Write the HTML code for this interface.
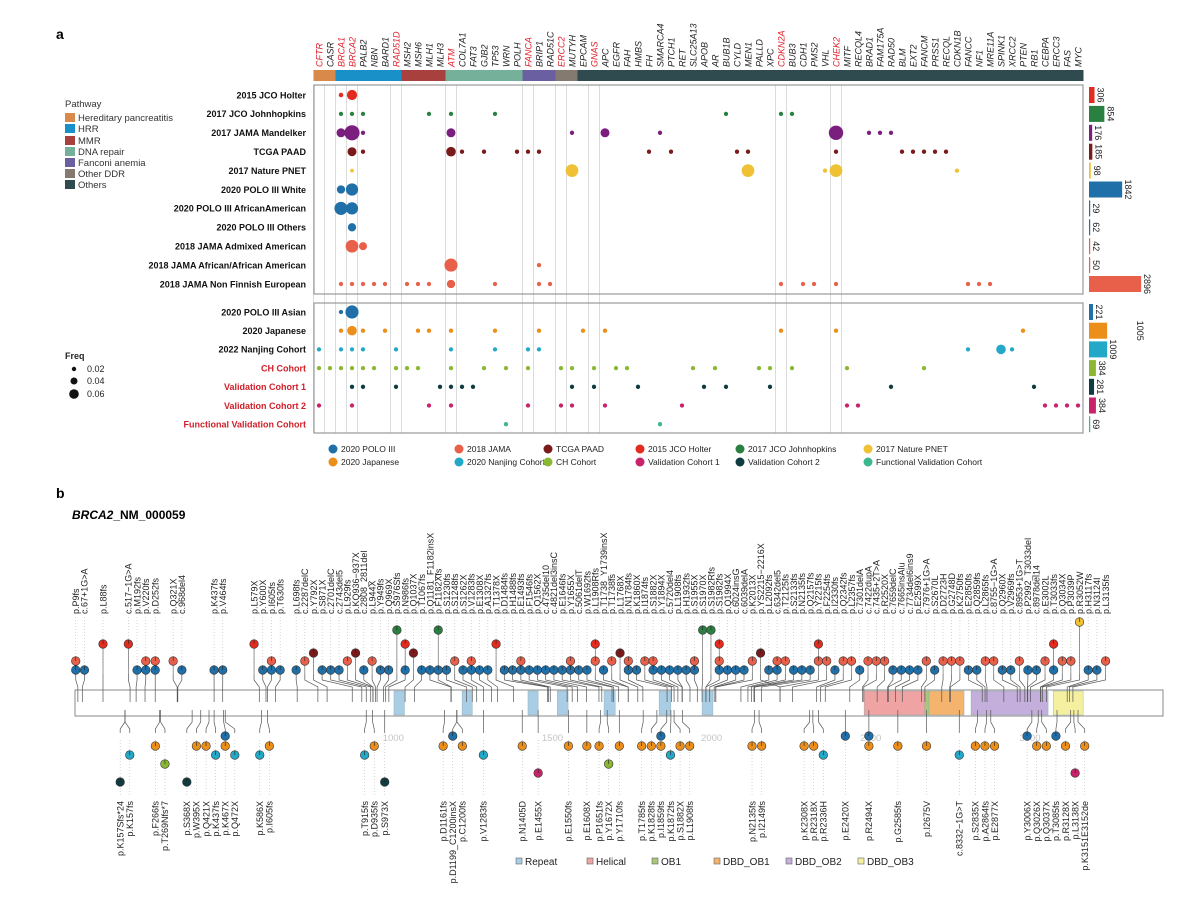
<!DOCTYPE html>
<html><head><meta charset="utf-8">
<style>
html,body{margin:0;padding:0;background:#fff;}
svg{display:block;font-family:"Liberation Sans",Arial,sans-serif;}
</style></head>
<body>
<svg id="fig" width="1200" height="900" viewBox="0 0 1200 900" xmlns="http://www.w3.org/2000/svg">
  <rect width="1200" height="900" fill="#fff"/>
  <text x="56" y="39" font-size="14" font-weight="bold">a</text>
  <text x="56" y="498" font-size="14" font-weight="bold">b</text>
  <text x="72" y="519" font-size="12" font-weight="bold"><tspan font-style="italic">BRCA2</tspan>_NM_000059</text>

  <g font-size="9.5" fill="#333">
    <text x="65" y="107">Pathway</text>
    <rect x="65" y="113" width="10" height="9" fill="#d9894a"/><text x="78" y="121">Hereditary pancreatitis</text>
    <rect x="65" y="124" width="10" height="9" fill="#1a90c8"/><text x="78" y="132">HRR</text>
    <rect x="65" y="136" width="10" height="9" fill="#a8403e"/><text x="78" y="144">MMR</text>
    <rect x="65" y="147" width="10" height="9" fill="#74b09a"/><text x="78" y="155">DNA repair</text>
    <rect x="65" y="158" width="10" height="9" fill="#6a5fa0"/><text x="78" y="166">Fanconi anemia</text>
    <rect x="65" y="169" width="10" height="9" fill="#857a6f"/><text x="78" y="177">Other DDR</text>
    <rect x="65" y="180" width="10" height="9" fill="#2f4b50"/><text x="78" y="188">Others</text>
  </g>
  <g font-size="9" fill="#222">
    <text x="65" y="359" font-weight="bold">Freq</text>
    <circle cx="74" cy="369" r="2.2" fill="#111"/><text x="87" y="372">0.02</text>
    <circle cx="74" cy="381" r="3.5" fill="#111"/><text x="87" y="384">0.04</text>
    <circle cx="74" cy="394" r="4.8" fill="#111"/><text x="87" y="397">0.06</text>
  </g>
  <g id="pa"></g>
  <g id="pb"></g>
</svg>
<script>
// ---------------- Panel a data ----------------
const genes = ["CFTR","CASR","BRCA1","BRCA2","PALB2","NBN","BARD1","RAD51D","MSH2","MSH6","MLH1","MLH3","ATM","COL7A1","FAT3","GJB2","TP53","WRN","POLH","FANCA","BRIP1","RAD51C","ERCC2","MUTYH","EPCAM","GNAS","APC","EGFR","FAH","HMBS","FH","SMARCA4","PTCH1","RET","SLC25A13","APOB","AR","BUB1B","CYLD","MEN1","PALLD","XPC","CDKN2A","BUB3","CDH1","PMS2","VHL","CHEK2","MITF","RECQL4","BRAD1","FAM175A","RAD50","BLM","EXT2","FANCM","PRSS1","RECQL","CDKN1B","FANCC","NF1","MRE11A","SPINK1","XRCC2","PTEN","RB1","CEBPA","ERCC3","FAS","MYC"];
const redGenes = [0,2,3,7,12,19,22,25,42,47];
const pathwayNames = ["Hereditary pancreatitis","HRR","MMR","DNA repair","Fanconi anemia","Other DDR","Others"];
const pathwayColors = ["#d9894a","#1a90c8","#a8403e","#74b09a","#6a5fa0","#857a6f","#2f4b50"];
const pathwayStart = [0,2,8,12,19,22,24];
const pathwayEnd = [1,7,11,18,21,23,69];

const topRowLabels = ["2015 JCO Holter","2017 JCO Johnhopkins","2017 JAMA Mandelker","TCGA PAAD","2017 Nature PNET","2020 POLO III White","2020 POLO III AfricanAmerican","2020 POLO III Others","2018 JAMA Admixed American","2018 JAMA African/African American","2018 JAMA Non Finnish European"];
const topRowColors = ["#e32b1f","#2a8040","#7b1f7f","#7a1a1a","#efc135","#1f6fa8","#1f6fa8","#1f6fa8","#e8604a","#e8604a","#e8604a"];
const topRowN = [306,854,176,185,98,1842,29,62,42,50,2896];
const topRowPoints = [
  [[2,0.009],[3,0.045]],
  [[2,0.008],[3,0.008],[4,0.008],[10,0.008],[12,0.008],[16,0.008],[37,0.008],[42,0.008],[43,0.008]],
  [[2,0.035],[3,0.1],[4,0.008],[12,0.035],[23,0.008],[26,0.035],[31,0.008],[47,0.09],[50,0.008],[51,0.008],[52,0.008]],
  [[3,0.035],[4,0.008],[12,0.04],[13,0.008],[15,0.008],[18,0.008],[19,0.008],[20,0.008],[30,0.008],[32,0.008],[38,0.008],[39,0.008],[47,0.008],[53,0.008],[54,0.008],[55,0.008],[56,0.008],[57,0.008]],
  [[3,0.006],[23,0.07],[39,0.07],[46,0.008],[47,0.07],[58,0.008]],
  [[2,0.03],[3,0.065]],
  [[2,0.075],[3,0.065]],
  [[3,0.03]],
  [[3,0.07],[4,0.028]],
  [[12,0.075],[20,0.008]],
  [[2,0.008],[3,0.008],[4,0.008],[5,0.008],[6,0.008],[8,0.008],[9,0.008],[10,0.008],[12,0.03],[16,0.008],[20,0.008],[21,0.008],[42,0.008],[44,0.008],[45,0.008],[47,0.008],[59,0.008],[60,0.008],[61,0.008]]
];
const lowRowLabels = ["2020 POLO III Asian","2020 Japanese","2022 Nanjing Cohort","CH Cohort","Validation Cohort 1","Validation Cohort 2","Functional Validation Cohort"];
const lowRowLabelColors = ["#111","#111","#111","#d0202a","#d0202a","#d0202a","#d0202a"];
const lowRowColors = ["#1f6fa8","#ec8e1a","#23a8c7","#8ab832","#0f3c40","#c8236a","#3cb890"];
const lowRowN = [221,1005,1009,384,281,384,69];
const lowRowPoints = [
  [[2,0.008],[3,0.075]],
  [[2,0.008],[3,0.04],[4,0.008],[6,0.008],[9,0.008],[10,0.008],[12,0.008],[16,0.008],[20,0.008],[24,0.008],[26,0.008],[42,0.008],[47,0.008],[64,0.008]],
  [[0,0.008],[2,0.008],[3,0.008],[4,0.008],[7,0.008],[12,0.008],[16,0.008],[19,0.008],[20,0.008],[59,0.008],[62,0.04],[63,0.008]],
  [[0,0.008],[1,0.008],[2,0.008],[3,0.008],[4,0.008],[5,0.008],[7,0.008],[8,0.008],[9,0.008],[12,0.008],[15,0.008],[17,0.008],[19,0.008],[22,0.008],[23,0.008],[25,0.008],[27,0.008],[28,0.008],[34,0.008],[36,0.008],[40,0.008],[41,0.008],[43,0.008],[48,0.008],[55,0.008]],
  [[3,0.008],[4,0.008],[7,0.008],[11,0.008],[12,0.008],[13,0.008],[14,0.008],[23,0.008],[25,0.008],[29,0.008],[35,0.008],[37,0.008],[41,0.008],[52,0.008],[65,0.008]],
  [[0,0.008],[3,0.008],[10,0.008],[12,0.008],[19,0.008],[22,0.008],[23,0.008],[26,0.008],[33,0.008],[48,0.008],[49,0.008],[66,0.008],[67,0.008],[68,0.008],[69,0.008]],
  [[17,0.008],[31,0.008]]
];
const legendNames = ["2020 POLO III","2018 JAMA","TCGA PAAD","2015 JCO Holter","2017 JCO Johnhopkins","2017 Nature PNET","2020 Japanese","2020 Nanjing  Cohort","CH Cohort","Validation Cohort 1","Validation Cohort 2","Functional Validation Cohort"];
const legendColors = ["#1f6fa8","#e8604a","#7a1a1a","#e32b1f","#2a8040","#efc135","#ec8e1a","#23a8c7","#8ab832","#c8236a","#0f3c40","#3cb890"];

// ---------------- Panel b data ----------------
const protLen = 3418;
const axisTicks = [1000,1500,2000,2500,3000];
const domainNames = ["Repeat","Repeat","Repeat","Repeat","Repeat","Repeat","Repeat","Helical","OB1","DBD_OB1","DBD_OB2","DBD_OB3"];
const domainStart = [1002,1216,1423,1515,1662,1835,1970,2479,2670,2683,2815,3073];
const domainEnd = [1035,1248,1455,1549,1697,1872,2004,2670,2683,2793,3057,3167];
const domainColorNames = ["Repeat","Helical","OB1","DBD_OB1","DBD_OB2","DBD_OB3"];
const domainColors = ["#a8cde4","#f0a3a3","#a8c878","#f5b46e","#c4aedb","#f5f0a0"];

const topMutLabels = ["p.P9fs","c.67+1G>A","p.L88fs","c.517\u22121G>A","p.M192fs","p.V220fs","p.D252fs","p.Q321X","c.968del4","p.K437fs","p.V464fs","p.L579X","p.Y600X","p.I605fs","p.T630fs","p.L698fs","c.2287delC","p.Y792X","p.S871X","c.2701delC","c.2743del5","p.L929fs","p.KQ936\u2212937X","c.2808_2811del","p.L944X","p.Y949fs","p.Q969X","p.S976Sfs","p.N986fs","p.Q1037X","p.T1067fs","p.Q1181_F1182insX","p.F1182Xfs","p.S1230fs","p.S1248fs","p.S1262X","p.V1283fs","p.E1308X","p.A1327fs","p.T1378X","p.D1484fs","p.H1488fs","p.E1493fs","p.F1546fs","p.Q1562X","c.4735del10","c.4821del3insC","p.E1646fs","p.Y1655X","c.5061delT","p.W1692fs","p.L1908Rfs","p.T1738_Y1739insX","p.T1738fs","p.L1768X","p.N1784fs","p.K1860X","p.I1874fs","p.S1882X","p.Y1894X","c.5720del4","p.L1908fs","p.H1932fs","p.S1955X","p.S1970X","p.S1982Rfs","p.S1982fs","p.Q1994X","c.6024insG","c.6039delA","p.K2013X","p.YS2215\u22122216X","p.L2092fs","c.6342del5","p.T2125fs","p.S2133fs","p.N2135fs","p.Q2157fs","p.Y2215fs","p.F2254fs","p.I2330fs","p.Q2342fs","p.L2357fs","c.7301delA","c.7422dupA","c.7435+2T>A","p.R2520X","c.7659delC","c.7665insAlu","c.7734del6ins9","p.E2599X","c.7976+1G>A","p.S2670L","p.D2723H","p.G2748D","p.K2750fs","p.E2850fs","p.Q2859fs","p.L2865fs","c.8755\u22121G>A","p.Q2960X","p.V2969fs","c.8953+1G>T","p.P2992_T3033del","c.8978del14","p.E3002L","p.T3033fs","p.Q3034X","p.P3039P","p.R3052W","p.H3117fs","p.N3124I","p.L3135fs"];
const topMutPos = [9,23,88,173,192,220,252,321,323,437,464,579,600,605,630,698,763,792,871,901,915,929,936,936,944,949,969,976,986,1037,1067,1181,1182,1230,1248,1262,1283,1308,1327,1378,1484,1488,1493,1546,1562,1579,1607,1646,1655,1687,1692,1708,1738,1738,1768,1784,1860,1874,1882,1894,1907,1908,1932,1955,1970,1982,1982,1994,2008,2013,2013,2215,2092,2114,2125,2133,2135,2157,2215,2254,2330,2342,2357,2434,2474,2478,2520,2553,2555,2578,2599,2659,2670,2723,2748,2750,2850,2859,2865,2918,2960,2969,2984,2992,2993,3002,3033,3034,3039,3052,3117,3124,3135];
const topMutCohorts = ["BO","B","R","R","B","BO","BO","O","B","B","B","R","B","BO","B","B","O","D","B","B","B","O","D","B","O","B","B","G","BR","D","B","B","BG","B","O","B","BO","B","B","R","B","B","BO","B","B","B","B","B","BO","B","B","RO","B","O","D","BO","B","O","BO","B","B","B","B","BO","G","G","BOR","B","B","B","O","D","B","BO","O","B","B","B","RO","O","B","O","O","B","O","O","O","B","B","B","B","O","B","O","O","O","B","B","O","O","B","B","O","B","B","O","RB","O","O","Y","B","B","O"];

const botMutLabels = ["p.K157Sfs*24","p.K157fs","p.F266fs","p.T269Nfs*7","p.S368X","p.W395X","p.Q421X","p.K437fs","p.K467X","p.Q472X","p.K586X","p.I605fs","p.T915fs","p.D935fs","p.S973X","p.D1161fs","p.D1199_C1200insX","p.C1200fs","p.V1283fs","p.N1405D","p.E1455X","p.E1550fs","p.E1608X","p.P1651fs","p.Y1672X","p.Y1710fs","p.T1785fs","p.K1828fs","p.I1859fs","p.K1872fs","p.S1882X","p.L1908fs","p.N2135fs","p.I2149fs","p.K2308X","p.R2318X","p.R2336H","p.E2420X","p.R2494X","p.G2585fs","p.I2675V","c.8332\u22121G>T","p.S2835X","p.A2864fs","p.E2877X","p.Y3006X","p.Q3026X","p.Q3037X","p.T3085fs","p.R3128X","p.L3138X","p.K3151E3152de"];
const botMutPos = [157,157,266,269,368,395,421,437,467,472,586,605,915,935,973,1161,1199,1200,1283,1405,1455,1550,1608,1651,1672,1710,1785,1828,1859,1872,1882,1908,2135,2149,2308,2318,2336,2420,2494,2585,2675,2778,2835,2864,2877,3006,3026,3037,3085,3128,3138,3151];
const botMutCohorts = ["t","n","j","c","t","j","j","n","bj","n","n","j","n","j","t","j","b","j","n","j","v","j","j","j","c","j","j","j","bj","n","j","j","j","j","j","j","n","b","bj","j","j","n","j","j","j","b","j","j","b","j","v","j"];

// ---------------- helpers ----------------
const NS = "http://www.w3.org/2000/svg";
function mk(tag, attrs, parent){ const e=document.createElementNS(NS,tag); for(const k in attrs) e.setAttribute(k,attrs[k]); parent.appendChild(e); return e; }
const pa = document.getElementById("pa");
const pb = document.getElementById("pb");

// ---------------- Panel a ----------------
const colX = i => 319 + 11*i;
const topRowY = i => 95 + 18.9*i;
const lowRowY = i => 312 + 18.7*i;
const rScale = f => 24*Math.sqrt(f);
const nScale = n => n*0.018;

redGenes.forEach(g=>{
  [colX(g)-5.5, colX(g)+5.5].forEach(x=>{
    const l = mk("line",{x1:x,x2:x,y1:85,y2:433,stroke:"#dcdcdc","stroke-width":1},pa);
    
    
  });
});
const box1 = mk("rect",{x:314,y:85,width:769,height:209,fill:"none",stroke:"#999","stroke-width":1.2},pa);


const box2 = mk("rect",{x:314,y:303,width:769,height:130,fill:"none",stroke:"#999","stroke-width":1.2},pa);



genes.forEach((g,i)=>{
  const t = mk("text",{transform:`translate(${colX(i)+3.5},67) rotate(-90)`,"font-size":9,"font-style":"italic",fill:redGenes.includes(i)?"#e0202a":"#222"},pa);
  t.textContent = g;
  
  
});
pathwayNames.forEach((p,k)=>{
  const x1 = colX(pathwayStart[k])-5.5, x2 = colX(pathwayEnd[k])+5.5;
  const r = mk("rect",{x:x1,y:70,width:x2-x1,height:11,fill:pathwayColors[k]},pa);
  
  
});

function drawRows(labels, labelColors, colors, ns, points, yFn){
  let prevEnd = -1;
  labels.forEach((lab,i)=>{
    const y = yFn(i);
    const t = mk("text",{x:306,y:y+3.3,"text-anchor":"end","font-size":9,"font-weight":"bold",fill:labelColors[i]},pa);
    t.textContent = lab;
    
    
    points[i].forEach(p=>{
      const c = mk("circle",{cx:colX(p[0]),cy:y,r:rScale(p[1]),fill:colors[i]},pa);
      
      
    });
    const w = Math.max(1.2,nScale(ns[i]));
    const b = mk("rect",{x:1089,y:y-8,width:w,height:16,fill:colors[i]},pa);
    
    
    let lx = 1089+w+3;
    const nextW = i+1<ns.length ? nScale(ns[i+1]) : 0;
    if(w>10 && nextW>10) lx = 1089+w+30;
    const nt = mk("text",{transform:`translate(${lx},${y}) rotate(90)`,"text-anchor":"middle","font-size":9,fill:"#222"},pa);
    nt.textContent = ns[i];
    
    
  });
}
drawRows(topRowLabels, topRowLabels.map(()=>"#111"), topRowColors, topRowN, topRowPoints, topRowY);
drawRows(lowRowLabels, lowRowLabelColors, lowRowColors, lowRowN, lowRowPoints, lowRowY);

const legX = [333,459,548,640,740,868];
legendNames.forEach((n,k)=>{
  const x = legX[k%6], y = k<6 ? 449 : 462;
  const c = mk("circle",{cx:x,cy:y,r:4.5,fill:legendColors[k]},pa);
  
  
  const t = mk("text",{x:x+8,y:y+3.2,"font-size":8.5,fill:"#222"},pa);
  t.textContent = n;
  
  
});

// ---------------- Panel b ----------------
const X0 = 75, X1 = 1163;
const aaX = aa => X0 + aa*(X1-X0)/protLen;
const BAR_TOP = 690, BAR_BOT = 716;

function spread(xs, gap, lo, hi){
  const s = xs.slice();
  for(let it=0; it<600; it++){
    for(let j=1;j<s.length;j++){
      const d = s[j]-s[j-1];
      if(d<gap){ const m=(gap-d)/2; s[j]+=m; s[j-1]-=m; }
    }
    for(let j=0;j<s.length;j++){ s[j]=Math.max(lo, Math.min(hi, s[j])); }
  }
  for(let j=s.length-1;j>0;j--) if(s[j]-s[j-1]<gap*0.95) s[j-1]=s[j]-gap*0.95;
  return s;
}

const pbar = mk("rect",{x:X0,y:BAR_TOP,width:X1-X0,height:BAR_BOT-BAR_TOP,fill:"#fff",stroke:"#888","stroke-width":1},pb);


domainNames.forEach((d,k)=>{
  const ci = domainColorNames.indexOf(d);
  const r = mk("rect",{x:aaX(domainStart[k]),y:BAR_TOP+1,width:aaX(domainEnd[k])-aaX(domainStart[k]),height:BAR_BOT-BAR_TOP-2,fill:domainColors[ci],stroke:"#8aa","stroke-width":0.4},pb);
  
  
});
axisTicks.forEach(v=>{
  const t = mk("text",{x:aaX(v),y:741,"text-anchor":"middle","font-size":9.5,fill:"#c4c4c4"},pb);
  t.textContent = v;
  
  
});

const topRowYB = {B:670,O:661,D:653,R:644,G:630,Y:622};
const topColB = {B:"#1f6fa8",O:"#e8604a",D:"#7a1a1a",R:"#e32b1f",G:"#2a8040",Y:"#efc135"};
const botRowYB = {b:736,j:746,n:755,c:764,v:773,t:782};
const botColB = {b:"#1f6fa8",j:"#ec8e1a",n:"#23a8c7",c:"#8ab832",v:"#c8236a",t:"#0f3c40"};

function marker(x,y,col){
  const c = mk("circle",{cx:x,cy:y,r:4.3,fill:col,stroke:"#333","stroke-width":0.6},pb);
  
  
  const l = mk("line",{x1:x,x2:x,y1:y-4,y2:y,stroke:"#222","stroke-width":0.6},pb);
  
  
}

const topSlots = spread(topMutPos.map(aaX), 8.7, 72, 1167);
topMutLabels.forEach((lab,i)=>{
  const sx = topSlots[i], px = aaX(topMutPos[i]);
  const dots = mk("line",{x1:sx,x2:sx,y1:617,y2:668,stroke:"#bbb","stroke-width":0.6,"stroke-dasharray":"1,2"},pb);
  
  
  const stem = mk("polyline",{points:`${sx},674 ${sx},680 ${px},687 ${px},702`,fill:"none",stroke:"#555","stroke-width":0.7},pb);
  
  
  const cs = topMutCohorts[i].split("");
  const topY = Math.min(...cs.map(c=>topRowYB[c]));
  if(cs.length>1 || topRowYB[cs[0]]<670){
    const s2 = mk("line",{x1:sx,x2:sx,y1:topY,y2:674,stroke:"#555","stroke-width":0.6},pb);
    
    
  }
  cs.forEach(c=>marker(sx, topRowYB[c], topColB[c]));
  const t = mk("text",{transform:`translate(${sx+3.3},614) rotate(-90)`,"font-size":9,fill:"#222"},pb);
  t.textContent = lab;
  
  
});

const botSlots = spread(botMutPos.map(aaX), 9.6, 112, 1100);
botMutLabels.forEach((lab,i)=>{
  const sx = botSlots[i], px = aaX(botMutPos[i]);
  const stem = mk("polyline",{points:`${px},${BAR_BOT-6} ${px},722 ${sx},729 ${sx},733`,fill:"none",stroke:"#555","stroke-width":0.7},pb);
  
  
  const dots = mk("line",{x1:sx,x2:sx,y1:740,y2:796,stroke:"#bbb","stroke-width":0.6,"stroke-dasharray":"1,2"},pb);
  
  
  botMutCohorts[i].split("").forEach(c=>marker(sx, botRowYB[c], botColB[c]));
  const t = mk("text",{transform:`translate(${sx+3.3},801) rotate(-90)`,"text-anchor":"end","font-size":9,fill:"#222"},pb);
  t.textContent = lab;
  
  
});

const domLegX = [516,587,652,714,786,858];
domainColorNames.forEach((d,k)=>{
  const r = mk("rect",{x:domLegX[k],y:858,width:6,height:6,fill:domainColors[k],stroke:"#666","stroke-width":0.6},pb);
  
  
  const t = mk("text",{x:domLegX[k]+9,y:865,"font-size":10,fill:"#222"},pb);
  t.textContent = d;
  
  
});
</script>
</body></html>
